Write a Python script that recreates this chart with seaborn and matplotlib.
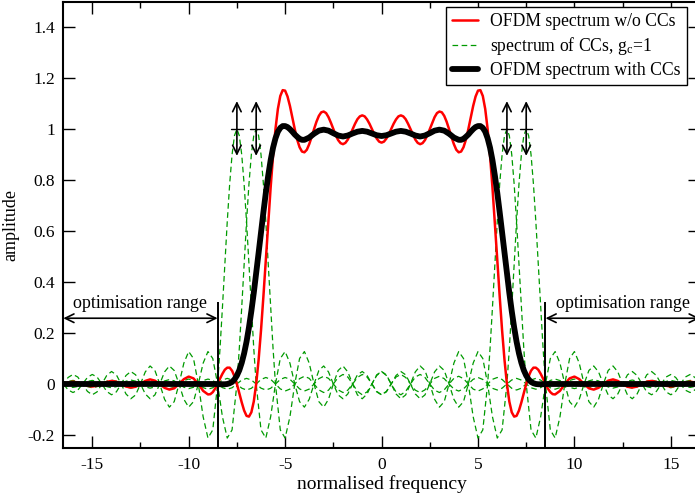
import numpy as np
import matplotlib
matplotlib.use("Agg")
import matplotlib.pyplot as plt
from matplotlib.ticker import MultipleLocator, FuncFormatter
import seaborn as sns

# ---------------- data ----------------
# frequency samples for the spectrum without CCs (finer where the curve is steep)
freq_wo = np.concatenate([np.arange(-16.5, -9.0, 0.25),
                          np.arange(-9.0, 9.001, 0.125),
                          np.arange(9.25, 16.51, 0.25)])
ofdm_wo_cc = [
    # -16.5 ... -9.25
    0.000, 0.006, 0.009, 0.006, 0.000, -0.007, -0.010, -0.007,
    0.000, 0.008, 0.012, 0.009, 0.000, -0.010, -0.014, -0.011,
    0.000, 0.012, 0.018, 0.013, 0.000, -0.015, -0.022, -0.017,
    0.000, 0.019, 0.029, 0.022, 0.000, -0.027,
    # -9.0 ... -0.125
    -0.041, -0.040, -0.032, -0.018, 0.000, 0.021, 0.040, 0.056,
    0.064, 0.064, 0.052, 0.030, 0.000, -0.036, -0.072, -0.104,
    -0.125, -0.128, -0.111, -0.069, 0.000, 0.094, 0.210, 0.344,
    0.487, 0.632, 0.771, 0.896, 1.000, 1.079, 1.130, 1.153,
    1.151, 1.128, 1.091, 1.046, 1.000, 0.959, 0.929, 0.912,
    0.909, 0.919, 0.941, 0.969, 1.000, 1.029, 1.052, 1.066,
    1.069, 1.063, 1.047, 1.025, 1.000, 0.976, 0.957, 0.945,
    0.941, 0.946, 0.959, 0.978, 1.000, 1.021, 1.039, 1.050,
    1.054, 1.050, 1.038, 1.021, 1.000, 0.980, 0.963, 0.951,
    # 0.0 ... 9.0
    0.947,
    0.951, 0.963, 0.980, 1.000, 1.021, 1.038, 1.050, 1.054,
    1.050, 1.039, 1.021, 1.000, 0.978, 0.959, 0.946, 0.941,
    0.945, 0.957, 0.976, 1.000, 1.025, 1.047, 1.063, 1.069,
    1.066, 1.052, 1.029, 1.000, 0.969, 0.941, 0.919, 0.909,
    0.912, 0.929, 0.959, 1.000, 1.046, 1.091, 1.128, 1.151,
    1.153, 1.130, 1.079, 1.000, 0.896, 0.771, 0.632, 0.487,
    0.344, 0.210, 0.094, 0.000, -0.069, -0.111, -0.128, -0.125,
    -0.104, -0.072, -0.036, 0.000, 0.030, 0.052, 0.064, 0.064,
    0.056, 0.040, 0.021, 0.000, -0.018, -0.032, -0.040, -0.041,
    # 9.25 ... 16.5
    -0.027, 0.000, 0.022, 0.029, 0.019, 0.000, -0.017, -0.022,
    -0.015, 0.000, 0.013, 0.018, 0.012, 0.000, -0.011, -0.014,
    -0.010, 0.000, 0.009, 0.012, 0.008, 0.000, -0.007, -0.010,
    -0.007, 0.000, 0.006, 0.009, 0.006, 0.000,
]

# frequency samples for the spectrum with CCs
freq_with = np.concatenate([np.arange(-16.5, -8.5, 0.25),
                            np.arange(-8.5, -4.0, 0.125),
                            np.arange(-4.0, 4.0, 0.25),
                            np.arange(4.0, 8.5, 0.125),
                            np.arange(8.5, 16.51, 0.25)])
ofdm_with_cc = [
    # -16.5 ... -8.75
    0.000, 0.000, 0.000, 0.000, 0.000, 0.000, 0.000, 0.000,
    0.000, 0.000, 0.000, 0.000, 0.000, 0.000, 0.000, 0.000,
    0.000, 0.000, 0.000, 0.000, 0.000, 0.000, 0.000, 0.000,
    0.000, 0.000, 0.000, 0.000, 0.000, 0.000, 0.000, 0.000,
    # -8.5 ... -4.125
    0.000, -0.001, -0.001, -0.001, 0.000, 0.003, 0.008, 0.018,
    0.033, 0.054, 0.083, 0.120, 0.166, 0.222, 0.286, 0.357,
    0.434, 0.514, 0.594, 0.674, 0.750, 0.818, 0.878, 0.927,
    0.964, 0.990, 1.005, 1.012, 1.012, 1.008, 1.000, 0.990,
    0.979, 0.970, 0.962, 0.958,
    # -4.0 ... 3.75
    0.958, 0.967, 0.982, 0.994, 0.998, 0.994, 0.984, 0.975,
    0.971, 0.975, 0.983, 0.990, 0.993, 0.990, 0.983, 0.976,
    0.973, 0.976, 0.983, 0.990, 0.993, 0.990, 0.983, 0.975,
    0.971, 0.975, 0.984, 0.994, 0.998, 0.994, 0.982, 0.967,
    # 4.0 ... 8.375
    0.958, 0.958, 0.962, 0.970, 0.979, 0.990, 1.000, 1.008,
    1.012, 1.012, 1.005, 0.990, 0.964, 0.927, 0.878, 0.818,
    0.750, 0.674, 0.594, 0.514, 0.434, 0.357, 0.286, 0.222,
    0.166, 0.120, 0.083, 0.054, 0.033, 0.018, 0.008, 0.003,
    0.000, -0.001, -0.001, -0.001,
    # 8.5 ... 16.5
    0.000, 0.000, 0.000, 0.000, 0.000, 0.000, 0.000, 0.000,
    0.000, 0.000, 0.000, 0.000, 0.000, 0.000, 0.000, 0.000,
    0.000, 0.000, 0.000, 0.000, 0.000, 0.000, 0.000, 0.000,
    0.000, 0.000, 0.000, 0.000, 0.000, 0.000, 0.000, 0.000,
    0.000,
]

# spectrum of one cancellation carrier (g_c = 1), against offset from its centre
cc_centres = [-7.5, -6.5, 6.5, 7.5]
cc_offset = np.concatenate([np.arange(-24.0, -1.0, 0.25),
                            np.arange(-1.0, 1.001, 0.125),
                            np.arange(1.25, 24.01, 0.25)])
cc_spectrum = [
    0.0, -0.0095, -0.0135, -0.0097, 0.0, 0.0099, 0.0141, 0.0101,
    0.0, -0.0103, -0.0148, -0.0106, 0.0, 0.0108, 0.0155, 0.0111,
    0.0, -0.0114, -0.0163, -0.0117, 0.0, 0.0120, 0.0172, 0.0123,
    0.0, -0.0127, -0.0182, -0.0130, 0.0, 0.0134, 0.0193, 0.0139,
    0.0, -0.0143, -0.0205, -0.0148, 0.0, 0.0153, 0.0220, 0.0158,
    0.0, -0.0164, -0.0236, -0.0170, 0.0, 0.0177, 0.0255, 0.0184,
    0.0, -0.0192, -0.0277, -0.0200, 0.0, 0.0209, 0.0303, 0.0220,
    0.0, -0.0231, -0.0335, -0.0243, 0.0, 0.0257, 0.0374, 0.0273,
    0.0, -0.0290, -0.0424, -0.0310, 0.0, 0.0333, 0.0490, 0.0360,
    0.0, -0.0391, -0.0579, -0.0429, 0.0, 0.0474, 0.0707, 0.0530,
    0.0, -0.0600, -0.0909, -0.0693, 0.0, 0.0818, 0.1273, 0.1000,
    0.0, -0.1286, -0.2122, -0.1801,
    0.0, 0.1392, 0.3001, 0.4705, 0.6366, 0.7842, 0.9003, 0.9745, 1.0,
    0.9745, 0.9003, 0.7842, 0.6366, 0.4705, 0.3001, 0.1392, 0.0,
    -0.1801, -0.2122, -0.1286, 0.0, 0.1000, 0.1273, 0.0818, 0.0,
    -0.0693, -0.0909, -0.0600, 0.0, 0.0530, 0.0707, 0.0474, 0.0,
    -0.0429, -0.0579, -0.0391, 0.0, 0.0360, 0.0490, 0.0333, 0.0,
    -0.0310, -0.0424, -0.0290, 0.0, 0.0273, 0.0374, 0.0257, 0.0,
    -0.0243, -0.0335, -0.0231, 0.0, 0.0220, 0.0303, 0.0209, 0.0,
    -0.0200, -0.0277, -0.0192, 0.0, 0.0184, 0.0255, 0.0177, 0.0,
    -0.0170, -0.0236, -0.0164, 0.0, 0.0158, 0.0220, 0.0153, 0.0,
    -0.0148, -0.0205, -0.0143, 0.0, 0.0139, 0.0193, 0.0134, 0.0,
    -0.0130, -0.0182, -0.0127, 0.0, 0.0123, 0.0172, 0.0120, 0.0,
    -0.0117, -0.0163, -0.0114, 0.0, 0.0111, 0.0155, 0.0108, 0.0,
    -0.0106, -0.0148, -0.0103, 0.0, 0.0101, 0.0141, 0.0099, 0.0,
    -0.0097, -0.0135, -0.0095, 0.0,
]

opt_ranges = [(-16.5, -8.5), (8.5, 16.5)]
series_labels = ["OFDM spectrum w/o CCs",
                 r"spectrum of CCs, g$_\mathrm{c}$=1",
                 "OFDM spectrum with CCs"]
opt_label = "optimisation range"

# ---------------- style ----------------
sns.set_theme(style="ticks")
plt.rcParams.update({
    "font.family": ["Liberation Serif", "DejaVu Serif"],
    "mathtext.fontset": "custom",
    "mathtext.rm": "Liberation Serif",
    "mathtext.it": "Liberation Serif:italic",
    "axes.unicode_minus": False,
    "text.color": "black",
    "axes.labelcolor": "black",
    "xtick.color": "black",
    "ytick.color": "black",
})

RED = "#ff0000"
GREEN = "#009a00"

fig = plt.figure(figsize=(6.95, 4.94), dpi=100)
ax = fig.add_axes([63.3 / 695, 46.3 / 494, 636.5 / 695, 446.0 / 494])

sns.lineplot(x=freq_wo, y=ofdm_wo_cc, color=RED, lw=1.8, ax=ax,
             label=series_labels[0], estimator=None, sort=False, zorder=3)
for i, c in enumerate(cc_centres):
    sns.lineplot(x=c + cc_offset, y=cc_spectrum, color=GREEN, lw=0.9,
                 linestyle=(0, (4.5, 2.8)), ax=ax,
                 label=series_labels[1] if i == 0 else "_nolegend_",
                 estimator=None, sort=False, zorder=2)
sns.lineplot(x=freq_with, y=ofdm_with_cc, color="black", lw=4.2, ax=ax,
             label=series_labels[2], estimator=None, sort=False, zorder=4)

# adjustable CC amplitude markers
for c in cc_centres:
    ax.annotate("", xy=(c, 1.11), xytext=(c, 0.895),
                arrowprops=dict(arrowstyle="<->,head_length=0.45,head_width=0.22",
                                lw=1.2, color="black", shrinkA=0, shrinkB=0,
                                mutation_scale=14), zorder=6)
    ax.plot([c - 0.3, c + 0.3], [1.0, 1.0], color="black", lw=1.0, zorder=6)

# optimisation ranges
for lo, hi in opt_ranges:
    ax.vlines([lo, hi], -0.25, 0.323, color="black", lw=1.4, zorder=6)
    ax.annotate("", xy=(lo, 0.258), xytext=(hi, 0.258),
                arrowprops=dict(arrowstyle="<->,head_length=0.45,head_width=0.22",
                                lw=1.2, color="black", shrinkA=0, shrinkB=0,
                                mutation_scale=14), zorder=6)
    ax.text((lo + hi) / 2, 0.315, opt_label, ha="center", va="center",
            fontsize=13, zorder=6)

ax.set_xlim(-16.5, 16.5)
ax.set_ylim(-0.25, 1.5)
ax.xaxis.set_major_locator(MultipleLocator(5))
ax.xaxis.set_minor_locator(MultipleLocator(2.5))
ax.yaxis.set_major_locator(MultipleLocator(0.2))
fmt = FuncFormatter(lambda v, p: f"{round(v, 2) + 0.0:g}")
ax.yaxis.set_major_formatter(fmt)
ax.xaxis.set_major_formatter(fmt)
ax.tick_params(which="both", direction="in", top=True, right=True,
               width=1.0, labelsize=12.5)
ax.tick_params(which="major", length=8.5)
ax.tick_params(which="minor", length=4.3)
ax.tick_params(axis="x", which="major", pad=7)
ax.tick_params(axis="y", which="major", pad=6)
for sp in ax.spines.values():
    sp.set_linewidth(1.5)
    sp.set_color("black")

ax.set_xlabel("normalised frequency", fontsize=14, labelpad=1)
ax.set_ylabel("amplitude", fontsize=13, labelpad=6)

handles, labels = ax.get_legend_handles_labels()
leg = ax.legend(handles, labels, loc="upper right",
                bbox_to_anchor=(0.980, 0.9888), frameon=True, fancybox=False,
                edgecolor="black", framealpha=1, fontsize=12.7,
                handlelength=1.45, handletextpad=0.7, labelspacing=0.28,
                borderpad=0.35, borderaxespad=0)
leg.get_frame().set_linewidth(1.0)
leg.set_zorder(10)

fig.savefig("out.png", dpi=100)
